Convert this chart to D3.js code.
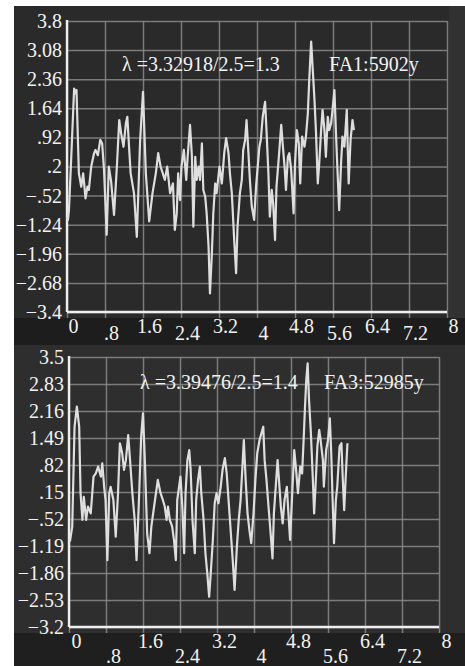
<!DOCTYPE html>
<html>
<head>
<meta charset="utf-8">
<script src="https://cdn.jsdelivr.net/npm/d3@7"></script>
<style>
  body { margin: 0; background: #fff; }
  svg { display: block; }
  text { font-family: "Liberation Serif", "Times New Roman", serif; fill: #f2f2f2; }
</style>
</head>
<body>
<div id="chart"></div>
<script>
// page size
var svgWidth = 465;
var svgHeight = 666;

// shared x ticks
var xTicks = [0, 0.8, 1.6, 2.4, 3.2, 4, 4.8, 5.6, 6.4, 7.2, 8];
var xTickLabels = ["0", ".8", "1.6", "2.4", "3.2", "4", "4.8", "5.6", "6.4", "7.2", "8"];

// y ticks of each panel
var yTicksTop = [3.8, 3.08, 2.36, 1.64, 0.92, 0.2, -0.52, -1.24, -1.96, -2.68, -3.4];
var yLabelsTop = ["3.8", "3.08", "2.36", "1.64", ".92", ".2", "\u2212.52", "\u22121.24", "\u22121.96", "\u22122.68", "\u22123.4"];
var yTicksBottom = [3.5, 2.83, 2.16, 1.49, 0.82, 0.15, -0.52, -1.19, -1.86, -2.53, -3.2];
var yLabelsBottom = ["3.5", "2.83", "2.16", "1.49", ".82", ".15", "\u2212.52", "\u22121.19", "\u22121.86", "\u22122.53", "\u22123.2"];

// FA1 series (time, value)
var timeTop = [0.00, 0.02, 0.04, 0.09, 0.15, 0.18, 0.20, 0.25, 0.30, 0.34, 0.39, 0.43, 0.46, 0.51, 0.57, 0.60, 0.65, 0.70, 0.74, 0.78, 0.835, 0.88, 0.93, 0.99, 1.05, 1.10, 1.14, 1.19, 1.24, 1.27, 1.31, 1.34, 1.41, 1.47, 1.54, 1.60, 1.66, 1.73, 1.80, 1.87, 1.92, 1.97,
  2.06, 2.11, 2.17, 2.23, 2.27, 2.31, 2.34, 2.38, 2.41, 2.46, 2.51, 2.54, 2.59, 2.63, 2.66, 2.70, 2.73, 2.77, 2.80, 2.84, 2.87, 2.91, 2.94, 2.98, 3.01, 3.05, 3.08, 3.12, 3.15, 3.21, 3.26, 3.31, 3.35, 3.40, 3.43, 3.47, 3.52, 3.56, 3.59, 3.64, 3.68, 3.71, 3.75, 3.78, 3.82, 3.85, 3.89, 3.94, 3.98,
  4.05, 4.08, 4.12, 4.17, 4.20, 4.24, 4.27, 4.31, 4.34, 4.38, 4.41, 4.46, 4.51, 4.54, 4.58, 4.61, 4.65, 4.68, 4.72, 4.77, 4.80, 4.84, 4.88, 4.91, 4.95, 5.00, 5.03, 5.07, 5.10, 5.14, 5.17, 5.21, 5.24, 5.28, 5.31, 5.35, 5.38, 5.42, 5.45, 5.49, 5.52, 5.56, 5.59, 5.63, 5.66, 5.70, 5.73, 5.77, 5.80, 5.84, 5.89, 5.93, 5.97, 6.01, 6.04];
var valueTop = [-1.04, -1.12, -0.9, 0.44, 2.13, 2.01, 2.09, 0.03, -0.30, 0.03, -0.59, -0.30, -0.38, 0.20, 0.53, 0.61, 0.48, 0.86, 0.77, 0.11, -1.49, 0.20, -0.18, -1.00, 0.20, 1.35, 1.02, 0.69, 1.27, 1.43, 0.61, 0.03, -0.46, -1.54, 0.86, 2.05, 0.03, -1.16, -0.46, 0.03, 0.53, 0.20,
  -0.13, 0.20, -0.46, -0.22, -1.37, -0.96, 0.03, -0.63, 0.20, 0.61, -0.13, 0.44, 1.23, 0.44, -1.29, 0.44, -0.13, 0.20, -0.13, 0.77, -0.38, -0.55, -0.96, -1.78, -2.94, -1.95, -0.96, -0.22, -0.46, 0.20, -0.22, 0.53, 0.90, 0.53, 0.03, -0.46, -1.62, -2.44, -1.29, -0.46, -0.13, 0.61, 0.86, 1.35, 0.53, -0.13, -0.79, -1.12, -0.30,
  0.69, 0.86, 1.43, 1.80, 1.10, 0.03, -1.04, -0.38, -0.71, -1.62, -0.30, 0.44, 1.23, 0.77, 0.20, -0.38, 0.44, 0.53, 0.11, -0.96, 0.28, 1.10, 0.77, -0.22, 0.94, 0.69, 0.94, 1.51, 2.34, 3.29, 2.67, 1.85, 1.10, -0.22, 0.28, 1.10, 1.60, 1.10, 0.44, 1.43, 1.10, 1.27, 1.60, 2.09, 1.10, -0.05, -0.88, 0.28, 0.94, 0.69, 1.60, -0.22, 0.86, 1.35, 1.10];

// FA3 series (time, value)
var timeBottom = [0.02, 0.07, 0.12, 0.17, 0.22, 0.25, 0.29, 0.32, 0.37, 0.41, 0.47, 0.53, 0.58, 0.63, 0.69, 0.72, 0.76, 0.79, 0.83, 0.87, 0.90, 0.96, 1.01, 1.06, 1.10, 1.15, 1.19, 1.23, 1.28, 1.32, 1.37, 1.42, 1.46, 1.51, 1.56, 1.60, 1.64, 1.69, 1.74, 1.78, 1.84, 1.89, 1.92, 1.98,
  2.03, 2.07, 2.11, 2.14, 2.18, 2.23, 2.27, 2.31, 2.34, 2.38, 2.41, 2.45, 2.49, 2.52, 2.56, 2.60, 2.63, 2.67, 2.72, 2.75, 2.79, 2.83, 2.86, 2.91, 2.95, 2.99, 3.03, 3.06, 3.11, 3.15, 3.19, 3.23, 3.28, 3.32, 3.37, 3.41, 3.45, 3.50, 3.54, 3.58, 3.63, 3.67, 3.71, 3.75, 3.78, 3.82, 3.86, 3.90, 3.94, 3.99,
  4.03, 4.07, 4.12, 4.16, 4.20, 4.23, 4.27, 4.32, 4.36, 4.40, 4.43, 4.47, 4.51, 4.54, 4.58, 4.62, 4.66, 4.71, 4.74, 4.78, 4.82, 4.87, 4.91, 4.95, 5.00, 5.04, 5.07, 5.10, 5.13, 5.16, 5.19, 5.23, 5.27, 5.30, 5.33, 5.37, 5.41, 5.44, 5.49, 5.51, 5.56, 5.60, 5.64, 5.67, 5.70, 5.73, 5.77, 5.80, 5.85, 5.89, 5.92, 5.95, 5.98, 6.02];
var valueBottom = [-1.08, -0.71, 1.77, 2.27, 1.77, 0.12, -0.54, 0.03, -0.54, -0.21, -0.38, 0.53, 0.61, 0.78, 0.53, 0.86, 0.28, -0.05, -1.54, 0.12, 0.28, -0.05, -0.96, 0.12, 1.36, 1.11, 0.70, 0.94, 1.56, 0.94, 0.12, -0.54, -1.54, -0.13, 1.52, 2.10, 0.94, -0.88, -1.37, -0.71, -0.21, 0.20, 0.45, 0.12,
  -0.05, -0.21, -0.54, -0.21, -0.54, -0.71, -1.04, -1.54, -0.05, 0.28, 0.53, -0.21, -1.37, 0.12, 0.94, 1.19, 0.70, -0.54, -1.37, -0.05, 0.45, 0.78, 0.12, -0.54, -1.37, -1.87, -2.45, -1.95, -1.04, -0.13, 0.12, -0.13, 0.28, 0.70, 0.99, 0.61, -0.05, -0.88, -1.54, -2.28, -1.21, -0.54, -0.05, 0.78, 1.44, 0.45, -0.38, -0.79, -1.12, -0.38,
  0.45, 1.11, 1.44, 1.61, 1.77, 0.94, 0.45, -0.30, -0.88, -1.50, -0.38, 0.28, 0.94, 0.45, -0.21, -0.63, -0.05, 0.28, -0.30, -1.04, -0.05, 1.19, 0.70, 0.12, 0.78, 0.61, 1.36, 2.19, 2.93, 3.34, 2.43, 1.61, 0.53, -0.38, 0.28, 1.28, 1.69, 1.44, 0.94, 0.28, 1.19, 1.44, 1.98, 1.11, -0.05, -1.12, -0.05, 0.28, 1.28, 1.36, 0.45, -0.30, 0.45, 1.36];

// annotation texts
var notesTop = ["\u03bb =3.32918/2.5=1.3", "FA1:5902y"];
var notesBottom = ["\u03bb =3.39476/2.5=1.4", "FA3:52985y"];

var svg = d3.select("#chart")
  .append("svg")
  .attr("width", svgWidth)
  .attr("height", svgHeight);

// dark photo-like backgrounds
svg.append("rect").attr("x", 14).attr("y", 6).attr("width", svgWidth - 14).attr("height", 339).attr("fill", "#2a2a2a");
svg.append("rect").attr("x", 14).attr("y", 318).attr("width", svgWidth - 14).attr("height", 27).attr("fill", "#1d1d1d");
svg.append("rect").attr("x", 14).attr("y", 345).attr("width", svgWidth - 14).attr("height", 321).attr("fill", "#2e2e2e");
svg.append("rect").attr("x", 14).attr("y", 633).attr("width", svgWidth - 14).attr("height", 33).attr("fill", "#1f1f1f");
svg.append("rect").attr("x", 449).attr("y", 6).attr("width", 16).attr("height", 312).attr("fill", "#313131");

var panels = [
  {left: 67, right: 447, top: 21, bottom: 312, yDomain: [-3.4, 3.8], yTicks: yTicksTop, yLabels: yLabelsTop,
   times: timeTop, values: valueTop, notes: notesTop, noteX: [122, 329], noteY: 71, labelY: [333, 340], labelDx: 6},
  {left: 69, right: 439, top: 357, bottom: 627, yDomain: [-3.2, 3.5], yTicks: yTicksBottom, yLabels: yLabelsBottom,
   times: timeBottom, values: valueBottom, notes: notesBottom, noteX: [140, 324], noteY: 389, labelY: [648, 663], labelDx: 7}
];

panels.forEach(drawPanel);

function drawPanel(p) {
  var xScale = d3.scaleLinear().domain([0, 8]).range([p.left, p.right]);
  var yScale = d3.scaleLinear().domain(p.yDomain).range([p.bottom, p.top]);
  var g = svg.append("g");

  // horizontal grid + y labels
  var leftAxis = d3.axisLeft(yScale)
    .tickValues(p.yTicks)
    .tickSizeInner(-(p.right - p.left))
    .tickSizeOuter(0)
    .tickPadding(5)
    .tickFormat(function (d, i) { return p.yLabels[i]; });
  var gy = g.append("g")
    .attr("transform", "translate(" + p.left + ",0)")
    .call(leftAxis);
  gy.select(".domain").remove();
  gy.selectAll("line").attr("stroke", "#8a8a8a").attr("stroke-width", 1.5).attr("stroke-opacity", 0.85);
  gy.selectAll("text").attr("font-size", 20).style("font-family", "Liberation Serif").attr("fill", "#f0f0f0");

  // vertical grid, poking below the x axis
  var bottomAxis = d3.axisBottom(xScale)
    .tickValues(xTicks)
    .tickSizeInner(-(p.bottom + 6 - p.top))
    .tickSizeOuter(0)
    .tickFormat(function (d, i) { return xTickLabels[i]; });
  var gx = g.append("g")
    .attr("transform", "translate(0," + (p.bottom + 6) + ")")
    .call(bottomAxis);
  gx.select(".domain").remove();
  gx.selectAll("line").attr("stroke", "#8a8a8a").attr("stroke-width", 1.5).attr("stroke-opacity", 0.85);
  gx.selectAll("text")
    .attr("font-size", 20)
    .style("font-family", "Liberation Serif")
    .attr("fill", "#f0f0f0")
    .attr("dy", null)
    .attr("x", p.labelDx)
    .attr("y", function (d, i) { return p.labelY[i % 2] - (p.bottom + 6); });

  // white axis lines
  g.append("line").attr("x1", p.left).attr("x2", p.left).attr("y1", p.top - 1).attr("y2", p.bottom)
    .attr("stroke", "#eeeeee").attr("stroke-width", 2.4);
  g.append("line").attr("x1", p.left).attr("x2", p.right).attr("y1", p.bottom).attr("y2", p.bottom)
    .attr("stroke", "#eeeeee").attr("stroke-width", 2.6);

  // signal
  var pts = p.times.map(function (t, i) { return [t, p.values[i]]; });
  var line = d3.line()
    .x(function (d) { return xScale(d[0]); })
    .y(function (d) { return yScale(d[1]); });
  g.append("path")
    .datum(pts)
    .attr("d", line)
    .attr("fill", "none")
    .attr("stroke", "#dedede")
    .attr("stroke-width", 2.2)
    .attr("stroke-linejoin", "round");

  // annotations
  g.selectAll(".note")
    .data(p.notes)
    .enter()
    .append("text")
    .attr("class", "note")
    .attr("x", function (d, i) { return p.noteX[i]; })
    .attr("y", p.noteY)
    .attr("font-size", 20)
    .text(function (d) { return d; });
}
</script>
</body>
</html>
